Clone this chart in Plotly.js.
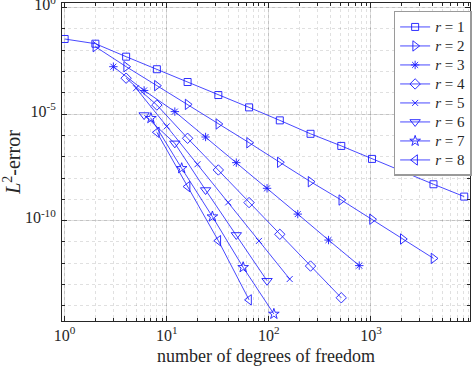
<!DOCTYPE html>
<html>
<head>
<meta charset="utf-8">
<script src="https://cdn.plot.ly/plotly-3.0.1.min.js"></script>
<style>
  html, body { margin: 0; padding: 0; background: #fff; }
  #chart { width: 474px; height: 368px; }
</style>
</head>
<body>
<div id="chart"></div>
<script>
// convergence data: degrees of freedom vs L2 error, one series per order r
const dof1 = [1, 2, 4, 8, 16, 32, 64, 128, 256, 512, 1024, 2048, 4096, 8192];
const err1 = [3.39e-2, 2.04e-2, 5.01e-3, 1.29e-3, 3.24e-4, 7.94e-5, 2.09e-5, 5.13e-6, 1.20e-6, 3.24e-7, 7.94e-8, 2.0e-8, 5.13e-9, 1.35e-9];

const dof2 = [2, 4, 8, 16, 32, 64, 128, 256, 512, 1024, 2048, 4096];
const err2 = [1.48e-2, 1.70e-3, 2.19e-4, 2.88e-5, 3.47e-6, 4.57e-7, 5.5e-8, 6.76e-9, 9.33e-10, 1.17e-10, 1.38e-11, 1.70e-12];

const dof3 = [3, 6, 12, 24, 48, 96, 192, 384, 768];
const err3 = [1.70e-3, 1.30e-4, 1.32e-5, 8.5e-7, 5.3e-8, 3.31e-9, 2.04e-10, 1.23e-11, 7.76e-13];

const dof4 = [4, 8, 16, 32, 64, 128, 256, 512];
const err4 = [4.9e-4, 2.69e-5, 7.4e-7, 2.4e-8, 7.08e-10, 2.29e-11, 7.41e-13, 2.4e-14];

const dof5 = [5, 10, 20, 40, 80, 160];
const err5 = [1.66e-4, 2.69e-6, 4.47e-8, 7.24e-10, 1.12e-11, 1.82e-13];

const dof6 = [6, 12, 24, 48, 96];
const err6 = [9.1e-6, 4.27e-7, 2.75e-9, 2.14e-11, 1.51e-13];

const dof7 = [7, 14, 28, 56, 112];
const err7 = [6.46e-6, 2.88e-8, 1.55e-10, 6.46e-13, 4.17e-15];

const dof8 = [8, 16, 32, 64];
const err8 = [1.41e-6, 3.98e-9, 1.15e-11, 1.91e-14];

const names = ['1', '2', '3', '4', '5', '6', '7', '8'];

// tick positions and labels
const xTickVals = [1, 10, 100, 1000];
const xTickText = ['10<sup>0</sup>', '10<sup>1</sup>', '10<sup>2</sup>', '10<sup>3</sup>'];
const yTickVals = [1, 1e-5, 1e-10];
const yTickText = ['10<sup>0</sup>', '10<sup>-5</sup>', '10<sup>-10</sup>'];

const allDof = [dof1, dof2, dof3, dof4, dof5, dof6, dof7, dof8];
const allErr = [err1, err2, err3, err4, err5, err6, err7, err8];
const symbols = ['square-open', 'triangle-right-open', 'asterisk-open', 'diamond-open',
                 'x-thin-open', 'triangle-down-open', 'star-open', 'triangle-left-open'];
const sizes = [7, 9, 7, 8, 6, 9, 8, 9];

const blue = '#1a1aff';
const serif = '"Liberation Serif", "DejaVu Serif", serif';

const data = allDof.map((x, i) => ({
    x: x,
    y: allErr[i],
    type: 'scatter',
    mode: 'lines+markers',
    name: '<span style="font-size:15px"><i>r</i> = ' + names[i] + '</span>',
    line: { color: blue, width: 0.8 },
    marker: {
        symbol: symbols[i],
        size: sizes[i],
        color: blue,
        line: { color: blue, width: 0.9 }
    }
}));

const axisCommon = {
    type: 'log',
    showline: true,
    linecolor: '#262626',
    linewidth: 1,
    mirror: 'allticks',
    ticks: 'inside',
    ticklen: 5,
    tickcolor: '#262626',
    showgrid: true,
    gridcolor: 'rgba(0,0,0,0.13)',
    zeroline: false,
    tickmode: 'array',
    ticklabeloverflow: 'allow',
    tickfont: { family: serif, size: 16, color: '#262626' }
};

const minorCommon = {
    ticks: 'inside',
    ticklen: 3,
    tickcolor: '#262626',
    showgrid: true,
    gridcolor: 'rgba(0,0,0,0.12)',
    griddash: 'dot'
};

const layout = {
    width: 474,
    height: 368,
    margin: { l: 62, r: 2, t: 3, b: 47 },
    paper_bgcolor: '#ffffff',
    plot_bgcolor: '#ffffff',
    showlegend: true,
    xaxis: Object.assign({}, axisCommon, {
        range: [-0.026, 3.97],
        tickvals: xTickVals,
        ticktext: xTickText,
        minor: Object.assign({ tickmode: 'linear', dtick: 'D1' }, minorCommon),
        title: {
            text: 'number of degrees of freedom',
            font: { family: serif, size: 18, color: '#262626' },
            standoff: 6
        }
    }),
    yaxis: Object.assign({}, axisCommon, {
        range: [-14.71, 0.22],
        tickvals: yTickVals,
        ticktext: yTickText,
        ticklabelshift: -3,
        ticklabelstandoff: 2,
        minor: Object.assign({ tickmode: 'linear', tick0: 0, dtick: 1 }, minorCommon),
        title: {
            text: '<i>L</i><sup>2</sup>-error',
            font: { family: serif, size: 20, color: '#262626' },
            standoff: 2
        }
    }),
    legend: {
        x: 1.004,
        xanchor: 'right',
        y: 0.975,
        yanchor: 'top',
        bgcolor: '#ffffff',
        bordercolor: '#9a9a9a',
        borderwidth: 1.5,
        tracegroupgap: 0,
        font: { family: serif, size: 12, color: '#262626' }
    }
};

Plotly.newPlot('chart', data, layout, { staticPlot: true, displayModeBar: false });
</script>
</body>
</html>
